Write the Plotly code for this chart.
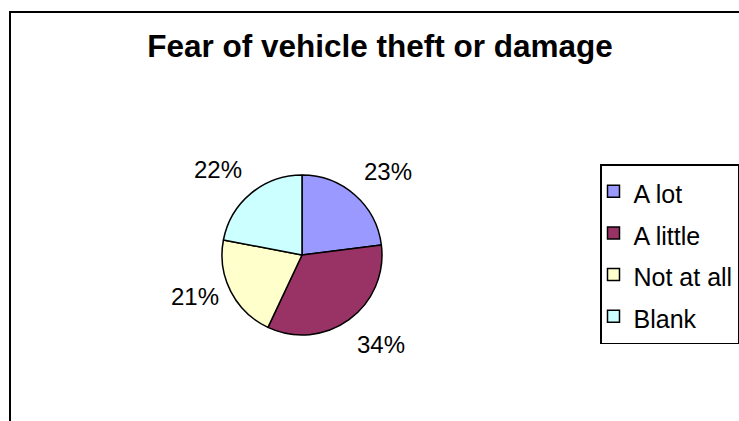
import math
import plotly.graph_objects as go

categories = ["A lot", "A little", "Not at all", "Blank"]
values = [23, 34, 21, 22]
colors = ["#9999FF", "#993366", "#FFFFCC", "#CCFFFF"]
title_text = "Fear of vehicle theft or damage"

W, H = 739, 421
FONT = "Liberation Sans, Arial, sans-serif"

cx, cy, r = 302, 255, 80
label_gap = 11

legend_labels = ['<span style="font-size:25px">%s</span>' % c for c in categories]

fig = go.Figure(go.Pie(
    labels=legend_labels,
    values=values,
    sort=False,
    direction="clockwise",
    rotation=0,
    marker=dict(colors=colors, line=dict(color="black", width=1.5)),
    textinfo="none",
    domain=dict(x=[(cx - r) / W, (cx + r) / W], y=[(H - cy - r) / H, (H - cy + r) / H]),
    customdata=categories,
    hovertemplate="%{customdata}: %{percent}<extra></extra>",
))

# percentage labels placed outside each slice, derived from the values
total = sum(values)
annotations = []
cum = 0
for v in values:
    mid = (cum + v / 2) / total * 2 * math.pi
    cum += v
    s, c = math.sin(mid), math.cos(mid)
    px = cx + (r + label_gap) * s
    py = cy - (r + label_gap) * c
    xanchor = "left" if s > 0 else "right"
    if c > 0.5:
        yanchor = "bottom"
    elif c < -0.5:
        yanchor = "top"
    else:
        yanchor = "middle"
    annotations.append(dict(
        x=px / W, y=1 - py / H, xref="paper", yref="paper",
        text="%d%%" % round(v / total * 100), showarrow=False,
        xanchor=xanchor, yanchor=yanchor,
        font=dict(family=FONT, size=24, color="black"),
    ))

fig.update_layout(
    width=W, height=H,
    margin=dict(l=0, r=0, t=0, b=0),
    paper_bgcolor="white",
    plot_bgcolor="white",
    font=dict(family=FONT, color="black"),
    title=dict(text="<b>" + title_text + "</b>", x=380 / W, xanchor="center",
               y=1 - 46 / H, yanchor="middle", yref="paper", xref="paper",
               font=dict(family=FONT, size=31.5, color="black")),
    showlegend=True,
    legend=dict(x=600 / W, y=1 - 164 / H, xanchor="left", yanchor="top",
                bordercolor="black", borderwidth=1.5, bgcolor="white",
                indentation=-8,
                font=dict(family=FONT, size=29.7, color="black"),
                itemclick=False),
    annotations=annotations,
    shapes=[dict(type="rect", xref="paper", yref="paper",
                 x0=10 / W, x1=1.05, y0=-0.05, y1=1 - 12 / H,
                 line=dict(color="black", width=2), fillcolor="rgba(0,0,0,0)", layer="below")],
)

fig.write_html(
    "out.html",
    config={"displayModeBar": False},
    post_script="document.body.style.margin='0';document.body.style.overflow='hidden';",
)
